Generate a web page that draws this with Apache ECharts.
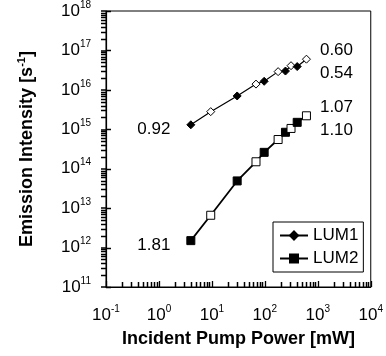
<!DOCTYPE html>
<html><head><meta charset="utf-8">
<script src="https://cdn.jsdelivr.net/npm/echarts@6/dist/echarts.min.js"></script>
<style>html,body{margin:0;padding:0;background:#fff}#c{width:386px;height:356px}</style>
</head><body><div id="c"></div>
<script>
// Data
const pumpPower = [4, 9.5, 30, 68, 97, 178, 245, 312, 408, 610];            // mW
const lum1 = [1.3e15, 2.8e15, 7.0e15, 1.4e16, 1.65e16, 2.9e16, 3.0e16, 4.1e16, 3.9e16, 6.0e16];
const lum2 = [1.5e12, 6.6e12, 4.9e13, 1.5e14, 2.6e14, 5.5e14, 8.4e14, 1.05e15, 1.5e15, 2.2e15];
const openMarker = [false, true, false, true, false, true, false, true, false, true];
const lum1SlopeLow = '0.92';
const lum1SlopeHigh = ['0.60', '0.54'];
const lum2SlopeLow = '1.81';
const lum2SlopeHigh = ['1.07', '1.10'];
const xExponents = [-1, 0, 1, 2, 3, 4];
const yExponents = [11, 12, 13, 14, 15, 16, 17, 18];

const FONT = "'Liberation Sans', Arial, Helvetica, sans-serif";

function minorValues(exps) {
  const out = [];
  for (let i = 0; i < exps.length - 1; i++) {
    for (let k = 2; k <= 9; k++) out.push(k * Math.pow(10, exps[i]));
  }
  return out;
}
const xMin = Math.pow(10, xExponents[0]), xMax = Math.pow(10, xExponents[xExponents.length - 1]);
const yMin = Math.pow(10, yExponents[0]), yMax = Math.pow(10, yExponents[yExponents.length - 1]);
const xMinorTicks = minorValues(xExponents);
const yMinorTicks = minorValues(yExponents);
const yMajorTicks = yExponents.map(e => Math.pow(10, e));

const tickRich = {
  b: { fontSize: 17, fontFamily: FONT, color: '#000', lineHeight: 22 },
  s: { fontSize: 10, fontFamily: FONT, color: '#000', lineHeight: 10, verticalAlign: 'top' }
};
function powLabel(v) {
  const e = Math.round(Math.log10(v));
  return '{b|10}{s|' + e + '}';
}

const labelStyle = { fontSize: 17, fontFamily: FONT, color: '#000' };
function build(ys, low, high) {
  return ys.map((y, i) => {
    const d = { value: [pumpPower[i], y], itemStyle: { color: openMarker[i] ? '#fff' : '#000', borderColor: '#000', borderWidth: 1 } };
    if (i === 0) d.label = Object.assign({ show: true, position: 'left', distance: 16, offset: [0, 5], formatter: low }, labelStyle);
    if (i === ys.length - 1) d.label = Object.assign({ show: true, position: 'right', distance: 9, offset: [0, 3], formatter: high.join('\n'), lineHeight: 23 }, labelStyle);
    return d;
  });
}

// tick marks drawn through the axis scales (api.coord)
function tickSeries(data, dx, dy) {
  return {
    type: 'custom', name: 'ticks', coordinateSystem: 'cartesian2d', xAxisIndex: 0, yAxisIndex: 0,
    silent: true, clip: false, z: 4,
    encode: { x: 0, y: 1 },
    data: data,
    renderItem: function (params, api) {
      const p = api.coord([api.value(0), api.value(1)]);
      const x = dx !== 0 ? p[0] : Math.round(p[0]) + 0.5;
      const y = dy !== 0 ? p[1] : Math.round(p[1]) + 0.5;
      return { type: 'line', shape: { x1: x, y1: y, x2: x + dx, y2: y + dy }, style: { stroke: '#000', lineWidth: 1.5, fill: null } };
    }
  };
}

const chart = echarts.init(document.getElementById('c'), null, { renderer: 'canvas' });
chart.setOption({
  animation: false,
  backgroundColor: '#fff',
  textStyle: { fontFamily: FONT },
  grid: { left: 106, right: 10, top: 11, bottom: 69, show: true, borderColor: '#000', borderWidth: 1, backgroundColor: 'transparent' },
  xAxis: {
    type: 'log', logBase: 10, min: xMin, max: xMax, position: 'bottom',
    axisLine: { show: true, onZero: false, lineStyle: { color: '#000', width: 1.2 } },
    axisTick: { show: true, inside: true, length: 6, lineStyle: { color: '#000', width: 1.3 } },
    axisLabel: { formatter: powLabel, rich: tickRich, margin: 17, color: '#000', showMaxLabel: true, showMinLabel: true },
    splitLine: { show: false },
    name: 'Incident Pump Power [mW]', nameLocation: 'middle', nameGap: 43,
    nameTextStyle: { fontSize: 18, fontWeight: 'bold', fontFamily: FONT, color: '#000' }
  },
  yAxis: {
    type: 'log', logBase: 10, min: yMin, max: yMax, position: 'left',
    axisLine: { show: true, onZero: false, lineStyle: { color: '#000', width: 1.2 } },
    axisTick: { show: true, inside: false, length: 5, lineStyle: { color: '#000', width: 1.5 } },
    axisLabel: { formatter: powLabel, rich: tickRich, margin: 15, color: '#000' },
    splitLine: { show: false },
    name: '{t|Emission Intensity [s}{s|-1}{t|]}', nameLocation: 'middle', nameGap: 68,
    nameTextStyle: {
      rich: {
        t: { fontSize: 18, fontWeight: 'bold', fontFamily: FONT, color: '#000', lineHeight: 22 },
        s: { fontSize: 11, fontWeight: 'bold', fontFamily: FONT, color: '#000', lineHeight: 11, verticalAlign: 'top' }
      }
    }
  },
  legend: {
    left: 273, top: 222, orient: 'vertical', backgroundColor: '#fff', borderColor: '#000', borderWidth: 1,
    borderRadius: 0, padding: [5, 5, 5, 6], itemGap: 6, itemWidth: 28, itemHeight: 10,
    textStyle: { fontSize: 17, color: '#000', fontFamily: FONT }, data: ['LUM1', 'LUM2']
  },
  series: [
    tickSeries(xMinorTicks.map(v => [v, yMin]), 0, -5),
    tickSeries(yMinorTicks.map(v => [xMin, v]), -5, 0),
    tickSeries(yMajorTicks.map(v => [xMin, v]), 5, 0),
    {
      name: 'LUM1', type: 'line', xAxisIndex: 0, yAxisIndex: 0,
      symbol: 'diamond', symbolSize: 8, showAllSymbol: true,
      lineStyle: { color: '#000', width: 1.2 },
      itemStyle: { color: '#000', borderColor: '#000', borderWidth: 1 },
      data: build(lum1, lum1SlopeLow, lum1SlopeHigh), z: 3
    },
    {
      name: 'LUM2', type: 'line', xAxisIndex: 0, yAxisIndex: 0,
      symbol: 'rect', symbolSize: 8, showAllSymbol: true,
      lineStyle: { color: '#000', width: 1.8 },
      itemStyle: { color: '#000', borderColor: '#000', borderWidth: 1 },
      data: build(lum2, lum2SlopeLow, lum2SlopeHigh), z: 3
    }
  ]
});
</script>
</body></html>
